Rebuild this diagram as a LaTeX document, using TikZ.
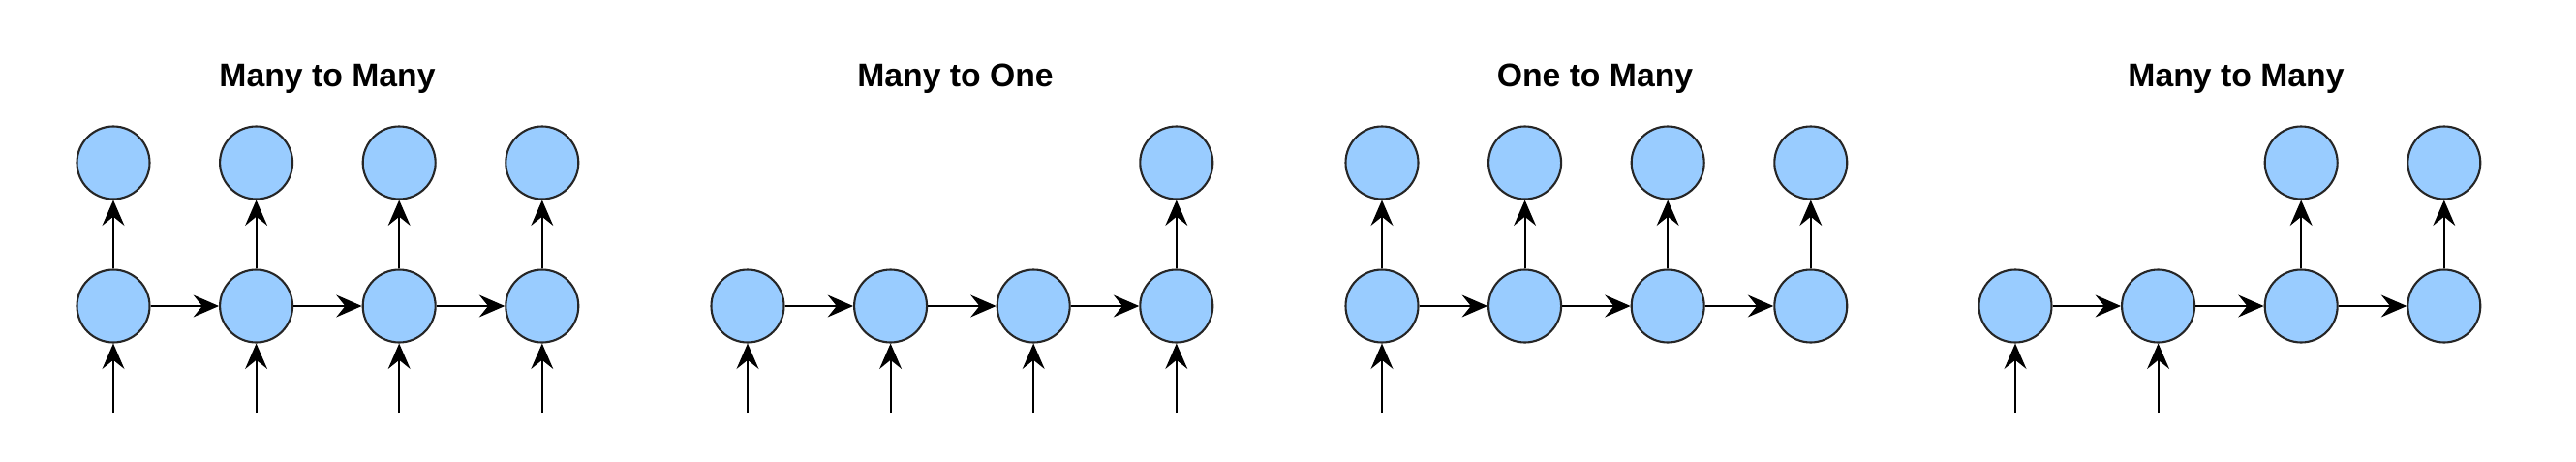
\documentclass[tikz,border=0pt]{standalone}
\usepackage{fontspec}
\setmainfont{Liberation Sans}
\usetikzlibrary{positioning}
\usetikzlibrary{arrows.meta}
\definecolor{cellblue}{HTML}{99CCFF}

\begin{document}
\begin{tikzpicture}
    [
    node distance=1.48cm and 1.476cm,
    on grid,
    cell/.style={circle, fill=cellblue, draw=black!85, line width=0.6pt, minimum size=0.75cm, inner sep=0pt},
    link/.style={-{Stealth[length=7.5pt, width=6.5pt, inset=2.6pt]}, line width=0.6pt},
    heading/.style={anchor=base, font=\fontsize{9.6}{11}\selectfont\bfseries},
    ]

    \useasboundingbox (0,0) rectangle (26.6,-4.76);

    % many to many (aligned)
    \node[heading] (title_a) at (3.38,-0.893) {Many to Many};
    \node[cell] (rnn_a1) at (1.17,-3.16) {};
    \node[cell, right = of rnn_a1] (rnn_a2) {};
    \node[cell, right = of rnn_a2] (rnn_a3) {};
    \node[cell, right = of rnn_a3] (rnn_a4) {};
    \node[cell, above = of rnn_a1] (out_a1) {};
    \node[cell, above = of rnn_a2] (out_a2) {};
    \node[cell, above = of rnn_a3] (out_a3) {};
    \node[cell, above = of rnn_a4] (out_a4) {};
    \coordinate[below = 1.1cm of rnn_a1] (in_a1);
    \coordinate[below = 1.1cm of rnn_a2] (in_a2);
    \coordinate[below = 1.1cm of rnn_a3] (in_a3);
    \coordinate[below = 1.1cm of rnn_a4] (in_a4);
    \draw[link] (rnn_a1) -- (rnn_a2);
    \draw[link] (rnn_a2) -- (rnn_a3);
    \draw[link] (rnn_a3) -- (rnn_a4);
    \draw[link] (rnn_a1) -- (out_a1);
    \draw[link] (rnn_a2) -- (out_a2);
    \draw[link] (rnn_a3) -- (out_a3);
    \draw[link] (rnn_a4) -- (out_a4);
    \draw[link] (in_a1) -- (rnn_a1);
    \draw[link] (in_a2) -- (rnn_a2);
    \draw[link] (in_a3) -- (rnn_a3);
    \draw[link] (in_a4) -- (rnn_a4);

    % many to one
    \node[heading] (title_b) at (9.865,-0.893) {Many to One};
    \node[cell] (rnn_b1) at (7.72,-3.16) {};
    \node[cell, right = of rnn_b1] (rnn_b2) {};
    \node[cell, right = of rnn_b2] (rnn_b3) {};
    \node[cell, right = of rnn_b3] (rnn_b4) {};
    \node[cell, above = of rnn_b4] (out_b4) {};
    \coordinate[below = 1.1cm of rnn_b1] (in_b1);
    \coordinate[below = 1.1cm of rnn_b2] (in_b2);
    \coordinate[below = 1.1cm of rnn_b3] (in_b3);
    \coordinate[below = 1.1cm of rnn_b4] (in_b4);
    \draw[link] (rnn_b1) -- (rnn_b2);
    \draw[link] (rnn_b2) -- (rnn_b3);
    \draw[link] (rnn_b3) -- (rnn_b4);
    \draw[link] (rnn_b4) -- (out_b4);
    \draw[link] (in_b1) -- (rnn_b1);
    \draw[link] (in_b2) -- (rnn_b2);
    \draw[link] (in_b3) -- (rnn_b3);
    \draw[link] (in_b4) -- (rnn_b4);

    % one to many
    \node[heading] (title_c) at (16.47,-0.893) {One to Many};
    \node[cell] (rnn_c1) at (14.27,-3.16) {};
    \node[cell, right = of rnn_c1] (rnn_c2) {};
    \node[cell, right = of rnn_c2] (rnn_c3) {};
    \node[cell, right = of rnn_c3] (rnn_c4) {};
    \node[cell, above = of rnn_c1] (out_c1) {};
    \node[cell, above = of rnn_c2] (out_c2) {};
    \node[cell, above = of rnn_c3] (out_c3) {};
    \node[cell, above = of rnn_c4] (out_c4) {};
    \coordinate[below = 1.1cm of rnn_c1] (in_c1);
    \draw[link] (rnn_c1) -- (rnn_c2);
    \draw[link] (rnn_c2) -- (rnn_c3);
    \draw[link] (rnn_c3) -- (rnn_c4);
    \draw[link] (rnn_c1) -- (out_c1);
    \draw[link] (rnn_c2) -- (out_c2);
    \draw[link] (rnn_c3) -- (out_c3);
    \draw[link] (rnn_c4) -- (out_c4);
    \draw[link] (in_c1) -- (rnn_c1);

    % many to many (encoder-decoder)
    \node[heading] (title_d) at (23.09,-0.893) {Many to Many};
    \node[cell] (rnn_d1) at (20.81,-3.16) {};
    \node[cell, right = of rnn_d1] (rnn_d2) {};
    \node[cell, right = of rnn_d2] (rnn_d3) {};
    \node[cell, right = of rnn_d3] (rnn_d4) {};
    \node[cell, above = of rnn_d3] (out_d3) {};
    \node[cell, above = of rnn_d4] (out_d4) {};
    \coordinate[below = 1.1cm of rnn_d1] (in_d1);
    \coordinate[below = 1.1cm of rnn_d2] (in_d2);
    \draw[link] (rnn_d1) -- (rnn_d2);
    \draw[link] (rnn_d2) -- (rnn_d3);
    \draw[link] (rnn_d3) -- (rnn_d4);
    \draw[link] (rnn_d3) -- (out_d3);
    \draw[link] (rnn_d4) -- (out_d4);
    \draw[link] (in_d1) -- (rnn_d1);
    \draw[link] (in_d2) -- (rnn_d2);
\end{tikzpicture}
\end{document}
